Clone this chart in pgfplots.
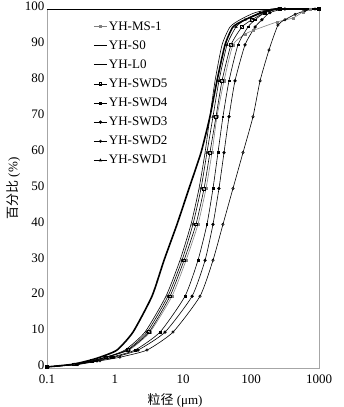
\documentclass[border=0pt]{standalone}
\usepackage{pgfplots}
\pgfplotsset{compat=1.18}
\usepackage{fontspec}
\setmainfont{Liberation Serif}
\newfontfamily\cjk{Noto Sans CJK SC}

\pgfplotstableread{
d p
0.1 0.3
0.233 1
0.401 2
0.601 3
1.07 5
1.84 10
3.50 20
5.26 30
8.16 40
12.25 50
18.4 60
24.9 70
31.6 80
41.5 90
54.3 95
81.7 97
145 99
225 100
1000 100
}\sz

\pgfplotstableread{
d p
0.1 0.3
0.25 1
0.459 2
0.737 3
1.40 5
2.76 10
5.62 20
9.03 30
13.1 40
17.2 50
21.1 60
24.9 70
29.6 80
37.5 90
49.1 95
68.9 97
115 99
225 100
1000 100
}\lz

\pgfplotstableread{
d p
0.1 0.3
0.25 1
0.459 2
0.737 3
1.50 5
2.96 10
6.01 20
9.67 30
14.0 40
18.4 50
22.5 60
27.6 70
33.8 80
44.4 90
60.2 95
81.7 97
136 99
249 100
1000 100
}\swdone

\pgfplotstableread{
d p
0.1 0.3
0.25 1
0.459 2
0.737 3
1.55 5
3.16 10
6.44 20
10.35 30
15.5 40
20.4 50
24.9 60
30.6 70
37.5 80
50.8 90
73.7 95
103 97
161 99
267 100
1000 100
}\swdfive

\pgfplotstableread{
d p
0.1 0.3
0.25 1
0.459 2
0.737 3
1.61 5
3.27 10
6.89 20
11.07 30
16.6 40
21.8 50
26.7 60
31.6 70
40.1 80
54.3 90
81.7 93
107 94
241 96.4
415 97.5
582 99.2
738 100
1000 100
}\ms

\pgfplotstableread{
d p
0.1 0.3
0.267 1
0.508 2
0.873 3
1.97 5
4.59 10
10.7 20
16.6 30
22.5 40
27.6 50
32.7 60
38.7 70
47.5 80
64.4 90
90.4 95
115 97
161 99
267 100
1000 100
}\swdfour

\pgfplotstableread{
d p
0.1 0.3
0.276 1
0.543 2
0.966 3
2.18 5
5.44 10
13.6 20
21.1 30
27.6 40
33.8 50
40.1 60
47.5 70
58.2 80
81.7 90
115 95
145 97
190 99
316 100
1000 100
}\swdthree

\pgfplotstableread{
d p
0.1 0.3
0.286 1
0.601 2
1.18 3
2.96 5
7.13 10
17.8 20
27.6 30
38.7 40
54.3 50
76.3 60
107 70
136 80
184 88.6
249 95.5
316 97
444 98.5
623 99.5
873 100
1000 100
}\swdtwo

\begin{document}
\begin{tikzpicture}
\useasboundingbox (-47pt,-39pt) rectangle (297pt,368pt);
\begin{axis}[
  scale only axis,
  width=272pt, height=359pt,
  xmode=log, xmin=0.1, xmax=1000, ymin=0, ymax=100,
  xtick={0.1,1,10,100,1000},
  xticklabels={0.1,1,10,100,1000},
  ytick={0,10,...,100},
  minor tick num=0,
  major tick length=0pt, minor tick length=0pt,
  axis line style={gray!70, line width=0.8pt},
  /pgf/number format/assume math mode=true,
  tick label style={font=\fontsize{13}{15}\selectfont},
  xticklabel style={yshift=-3pt},
  yticklabel style={xshift=1pt, yshift=2.5pt},
  xlabel={{\cjk 粒径} (μm)},
  ylabel={{\cjk 百分比} (\%)},
  label style={font=\fontsize{13}{15}\selectfont},
  xlabel style={yshift=-3pt, xshift=-8pt},
  ylabel style={yshift=-2pt},
  legend style={draw=none, fill=none, at={(0.165,0.972)}, anchor=north west,
    font=\fontsize{13}{15}\selectfont, row sep=6.6pt, inner sep=1pt,
    nodes={inner sep=1.2pt}},
  legend cell align=left,
  legend image code/.code={\draw[mark repeat=2,mark phase=2,#1] plot coordinates {(0cm,0cm) (0.23cm,0cm) (0.46cm,0cm)};},
  every axis plot/.append style={line width=0.6pt},
  mark size=1.2pt,
]
\addplot[gray, mark=square*, mark options={fill=gray, draw=gray, scale=0.9}, smooth, tension=0.35] table[x=d,y=p]{\ms};
\addlegendentry{YH-MS-1}
\addplot[black, line width=1.6pt, smooth, tension=0.35] table[x=d,y=p]{\sz};
\addlegendentry{YH-S0}
\addplot[black, line width=0.6pt, smooth, tension=0.35] table[x=d,y=p]{\lz};
\addlegendentry{YH-L0}
\addplot[black, mark=square, mark options={fill=white, solid, scale=1.1}, smooth, tension=0.35] table[x=d,y=p]{\swdfive};
\addlegendentry{YH-SWD5}
\addplot[black, mark=square*, mark options={scale=0.7}, smooth, tension=0.35] table[x=d,y=p]{\swdfour};
\addlegendentry{YH-SWD4}
\addplot[black, mark=*, mark options={scale=1.1}, smooth, tension=0.35] table[x=d,y=p]{\swdthree};
\addlegendentry{YH-SWD3}
\addplot[black, mark=o, mark options={fill=white}, smooth, tension=0.35] table[x=d,y=p]{\swdtwo};
\addlegendentry{YH-SWD2}
\addplot[black, mark=triangle, mark options={fill=white, scale=1.1}, smooth, tension=0.35] table[x=d,y=p]{\swdone};
\addlegendentry{YH-SWD1}
\draw[black, line width=0.8pt] (rel axis cs:0,1) -- (rel axis cs:1,1);
\end{axis}
\end{tikzpicture}
\end{document}
